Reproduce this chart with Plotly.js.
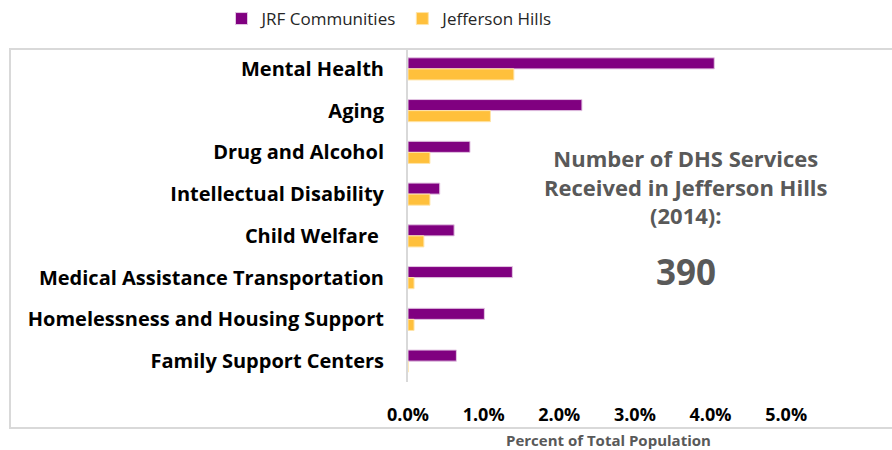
<!DOCTYPE html>
<html>
<head>
<meta charset="utf-8">
<script src="https://cdn.plot.ly/plotly-3.0.1.min.js"></script>
<style>html,body{margin:0;padding:0;background:#fff;}#chart{width:892px;height:450px;}</style>
</head>
<body>
<div id="chart"></div>
<script>
const categories = [
  "Mental Health",
  "Aging",
  "Drug and Alcohol",
  "Intellectual Disability",
  "Child Welfare ",
  "Medical Assistance Transportation",
  "Homelessness and Housing Support",
  "Family Support Centers"
];
const jrfCommunities = [4.05, 2.30, 0.82, 0.42, 0.61, 1.38, 1.01, 0.64];
const jeffersonHills = [1.40, 1.09, 0.29, 0.29, 0.21, 0.08, 0.08, 0.0];
const tickValues = [0, 1, 2, 3, 4, 5];
const tickLabels = ["0.0%", "1.0%", "2.0%", "3.0%", "4.0%", "5.0%"];
const calloutLines = ["Number of DHS Services", "Received in Jefferson Hills", "(2014):"];
const calloutValue = "390";

const FONT = "'Open Sans', Lato, sans-serif";

const traces = [
  {
    type: "bar", orientation: "h", name: "JRF Communities",
    y: categories, x: jrfCommunities,
    marker: {color: "#800080", line: {color: "#e3c6e3", width: 1}},
    hoverinfo: "skip"
  },
  {
    type: "bar", orientation: "h", name: "Jefferson Hills",
    y: categories, x: jeffersonHills,
    marker: {color: "#FFC03C", line: {color: "#ffe4a8", width: 1}},
    hoverinfo: "skip"
  }
];

// pixel -> paper helpers (plot area: x 408..892, y 48..382)
const px = v => (v - 408) / 484;
const py = v => (382 - v) / 334;

const annotations = [
  {
    xref: "paper", yref: "paper", x: px(686), y: py(186),
    xanchor: "center", yanchor: "middle", showarrow: false, align: "center",
    text: calloutLines.join("<br>"),
    font: {family: FONT, size: 22, color: "#595959", weight: "bold"}
  },
  {
    xref: "paper", yref: "paper", x: px(686), y: py(271), xanchor: "center", yanchor: "middle",
    showarrow: false, text: calloutValue,
    font: {family: FONT, size: 35, color: "#595959", weight: "bold"}
  },
  {
    xref: "paper", yref: "paper", x: px(608), y: py(440),
    xanchor: "center", yanchor: "middle", showarrow: false,
    text: "Percent of Total Population",
    font: {family: FONT, size: 15, color: "#595959", weight: "bold"}
  }
];

const layout = {
  width: 892, height: 450,
  margin: {l: 408, r: 0, t: 48, b: 68},
  paper_bgcolor: "#ffffff", plot_bgcolor: "#ffffff",
  font: {family: FONT, color: "#000"},
  barmode: "group",
  bargap: 0.47,
  bargroupgap: 0,
  showlegend: true,
  legend: {
    orientation: "h", x: px(390), xanchor: "center", y: py(19), yanchor: "middle",
    font: {family: FONT, size: 17, color: "#262626"},
    itemwidth: 30, traceorder: "normal"
  },
  xaxis: {
    range: [0, 6.4], tickvals: tickValues, ticktext: tickLabels,
    showgrid: false, zeroline: false, showline: false, ticks: "",
    ticklabelstandoff: 20,
    tickfont: {family: FONT, size: 18, color: "#000", weight: "bold"}
  },
  yaxis: {
    autorange: "reversed", type: "category",
    showgrid: false, zeroline: false, showline: true,
    linecolor: "#d9d9d9", linewidth: 2, ticks: "",
    ticklabelstandoff: 18,
    tickfont: {family: FONT, size: 20, color: "#000", weight: "bold"}
  },
  shapes: [
    {type: "rect", xref: "paper", yref: "paper",
     x0: px(10), x1: 1.05, y0: py(428), y1: py(49),
     line: {color: "#d9d9d9", width: 2}, fillcolor: "rgba(0,0,0,0)", layer: "below"}
  ],
  annotations: annotations
};

Plotly.newPlot("chart", traces, layout, {displayModeBar: false, staticPlot: true});
</script>
</body>
</html>
